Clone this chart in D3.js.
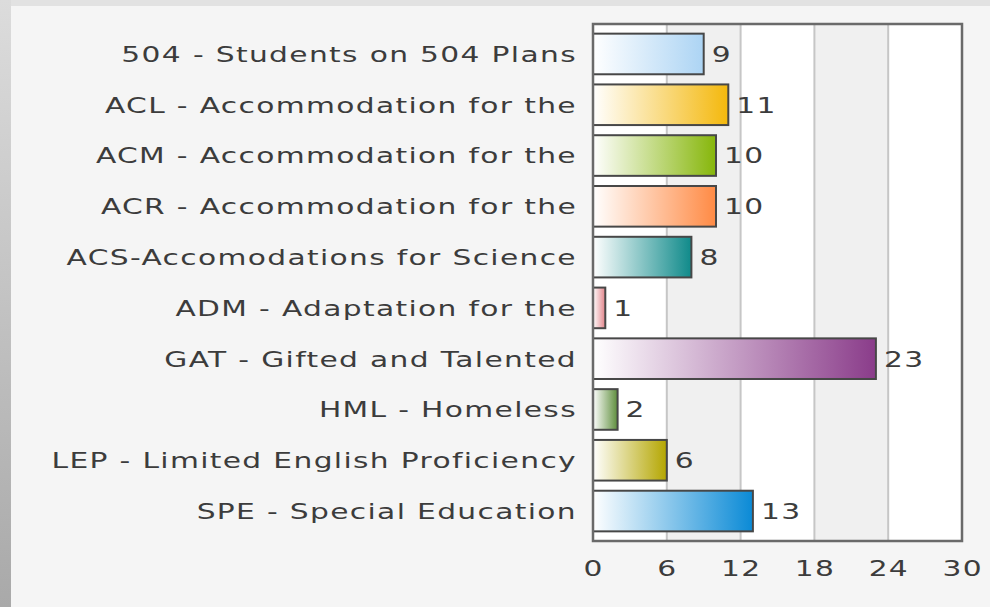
<!DOCTYPE html>
<html>
<head>
<meta charset="utf-8">
<script src="https://cdn.jsdelivr.net/npm/d3@7"></script>
<style>
  html, body { margin: 0; padding: 0; background: #e2e2e2; }
  svg { display: block; }
</style>
</head>
<body>
<svg id="chart" width="990" height="607"></svg>
<script>
// Data
const categories = [
  "504 - Students on 504 Plans",
  "ACL - Accommodation for the",
  "ACM - Accommodation for the",
  "ACR - Accommodation for the",
  "ACS-Accomodations for Science",
  "ADM - Adaptation for the",
  "GAT - Gifted and Talented",
  "HML - Homeless",
  "LEP - Limited English Proficiency",
  "SPE - Special Education"
];
const values = [9, 11, 10, 10, 8, 1, 23, 2, 6, 13];
const barColors = ["#acd4f4", "#f4b80c", "#86b60a", "#ff8a44", "#0f8a8a",
                   "#e2848a", "#8a3c8a", "#5e8e3c", "#b4a600", "#0a8ad6"];
const tickValues = [0, 6, 12, 18, 24, 30];

const width = 990, height = 607;
const plot = { left: 593, right: 962, top: 24, bottom: 541 };
const font_family = "Verdana, 'DejaVu Sans', sans-serif";
const font_color = "#3c3c3c";
const font_size = 22;
const textScale = 1.35;   // the reference text is stretched sideways
const letterSpace = 1;

const svg = d3.select("#chart");
const defs = svg.append("defs");

// Left edge gradient strip
const sideGrad = defs.append("linearGradient")
  .attr("id", "side-grad")
  .attr("x1", 0).attr("y1", 0).attr("x2", 0).attr("y2", 1);
sideGrad.append("stop").attr("offset", "0%").attr("stop-color", "#dcdcdc");
sideGrad.append("stop").attr("offset", "100%").attr("stop-color", "#a9a9a9");

svg.append("rect")
  .attr("width", width).attr("height", height)
  .attr("fill", "#e2e2e2");
svg.append("rect")
  .attr("x", 0).attr("y", 0).attr("width", 11).attr("height", height)
  .attr("fill", "url(#side-grad)");
svg.append("rect")
  .attr("x", 11).attr("y", 6).attr("width", width - 11).attr("height", height - 6)
  .attr("fill", "#f5f5f5");

// Scales
const x = d3.scaleLinear().domain([0, 30]).range([plot.left, plot.right]);
const y = d3.scaleBand()
  .domain(categories)
  .range([plot.top, plot.bottom])
  .paddingInner(0.2)
  .paddingOuter(0.19);

// Alternating vertical bands
const bands = d3.pairs(tickValues);
svg.append("g").selectAll("rect")
  .data(bands)
  .enter().append("rect")
  .attr("x", d => x(d[0]))
  .attr("y", plot.top)
  .attr("width", d => x(d[1]) - x(d[0]))
  .attr("height", plot.bottom - plot.top)
  .attr("fill", (d, i) => i % 2 === 0 ? "#ffffff" : "#f0f0f0");

// Grid lines
svg.append("g").selectAll("line")
  .data(tickValues.slice(1, -1))
  .enter().append("line")
  .attr("x1", d => x(d)).attr("x2", d => x(d))
  .attr("y1", plot.top).attr("y2", plot.bottom)
  .attr("stroke", "#c6c6c6")
  .attr("stroke-width", 2);

// Bar gradients
barColors.forEach((c, i) => {
  const g = defs.append("linearGradient")
    .attr("id", `bar-grad-${i}`)
    .attr("x1", 0).attr("y1", 0).attr("x2", 1).attr("y2", 0);
  g.append("stop").attr("offset", "0%").attr("stop-color", "#ffffff");
  g.append("stop").attr("offset", "100%").attr("stop-color", c);
});

const rows = categories.map((c, i) => ({ category: c, value: values[i], idx: i }));

// Bars
svg.append("g").selectAll("rect")
  .data(rows)
  .enter().append("rect")
  .attr("x", x(0))
  .attr("y", d => y(d.category))
  .attr("width", d => x(d.value) - x(0))
  .attr("height", y.bandwidth())
  .attr("fill", d => `url(#bar-grad-${d.idx})`)
  .attr("stroke", "#474747")
  .attr("stroke-width", 2);

// Plot border
svg.append("rect")
  .attr("x", plot.left).attr("y", plot.top)
  .attr("width", plot.right - plot.left)
  .attr("height", plot.bottom - plot.top)
  .attr("fill", "none")
  .attr("stroke", "#6a6a6a")
  .attr("stroke-width", 2.5);

function stretchedText(g, tx, ty, anchor, str) {
  return g.append("text")
    .attr("transform", `translate(${tx},${ty}) scale(${textScale},1)`)
    .attr("text-anchor", anchor)
    .attr("fill", font_color)
    .attr("font-family", font_family)
    .attr("font-size", font_size)
    .style("letter-spacing", `${letterSpace}px`)
    .text(str);
}

// Category labels
const labelG = svg.append("g");
rows.forEach(d => {
  stretchedText(labelG, plot.left - 16, y(d.category) + y.bandwidth() / 2, "end", d.category)
    .attr("dy", "0.36em");
});

// Value labels
const valueG = svg.append("g");
rows.forEach(d => {
  stretchedText(valueG, x(d.value) + 8, y(d.category) + y.bandwidth() / 2, "start", d.value)
    .attr("dy", "0.36em");
});

// X axis tick labels
const axisG = svg.append("g");
tickValues.forEach(t => {
  stretchedText(axisG, x(t) + letterSpace * textScale / 2, plot.bottom + 35, "middle", t);
});
</script>
</body>
</html>
